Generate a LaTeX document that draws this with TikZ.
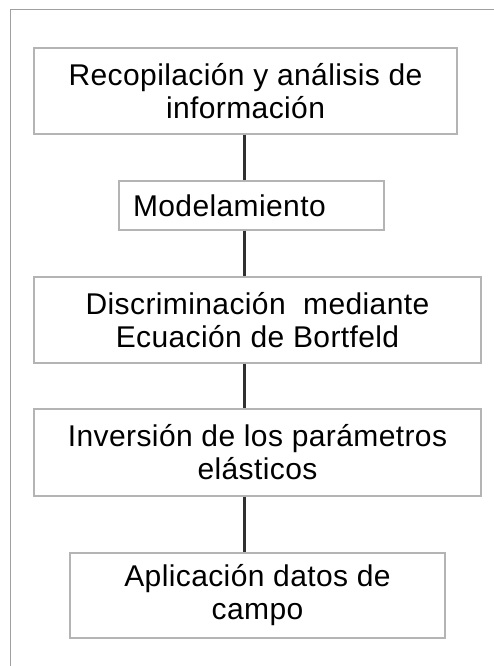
\documentclass[tikz,border=0pt]{standalone}
\usepackage{fontspec}
\setmainfont{Liberation Sans}[LetterSpace=1.3]
\definecolor{boxline}{HTML}{B4B4B4}
\definecolor{frameline}{HTML}{A0A0A0}
\definecolor{linkline}{HTML}{303030}
\begin{document}
\begin{tikzpicture}[x=1pt, y=-1pt,
	every node/.style={draw=boxline, line width=1.2pt, rectangle, inner sep=0, align=center,
		font=\fontsize{30}{33}\selectfont},
	link/.style={draw=linkline, line width=3pt}]
		
		\useasboundingbox (0,0) rectangle (494,666);
		\draw[frameline, line width=1pt] (10.5,666) -- (10.5,9.5) -- (494,9.5);
		
		\node (B1) at (245.5,91) [minimum width=423pt, minimum height=86pt]  {Recopilación y análisis de\\información};
		\node (B2) at (251.5,205.5) [minimum width=265pt, minimum height=49pt, text width=237pt, align=left]  {Modelamiento};
		\node (B3) at (257.5,320) [minimum width=447pt, minimum height=86pt]  {Discriminación\ \ mediante\\Ecuación de Bortfeld};
		\node (B4) at (257.5,452.5) [minimum width=447pt, minimum height=87pt]  {Inversión de los parámetros\\elásticos};
		\node (B5) at (257.5,595.5) [minimum width=375pt, minimum height=85pt]  {Aplicación datos de\\campo};
		
		\coordinate (axis) at (244,0);
		\draw[link] (axis |- B1.south) to (axis |- B2.north);
		\draw[link] (axis |- B2.south) to (axis |- B3.north);
		\draw[link] (axis |- B3.south) to (axis |- B4.north);
		\draw[link] (axis |- B4.south) to (axis |- B5.north);
	\end{tikzpicture}
\end{document}
